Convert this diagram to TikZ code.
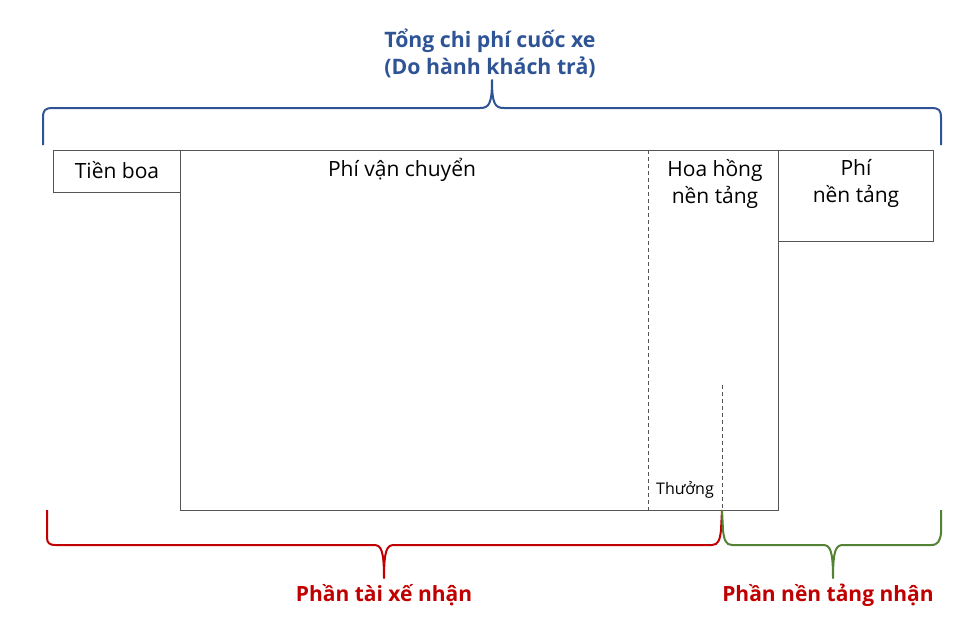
\documentclass[tikz,border=0pt]{standalone}
\usepackage{fontspec}
\setmainfont{Open Sans}
\usepackage{xcolor}
\definecolor{titleblue}{HTML}{2F5496}
\definecolor{partred}{HTML}{C00000}
\definecolor{partgreen}{HTML}{548235}
\definecolor{boxgray}{HTML}{555555}
\tikzset{
  boxline/.style={draw=boxgray, line width=1pt},
  splitline/.style={draw=boxgray, line width=0.9pt, dash pattern=on 4pt off 3pt},
  bracepath/.style={line width=2pt, line join=round},
  boxtext/.style={font=\fontsize{21}{27.5}\selectfont, align=center, inner sep=0pt},
  parttext/.style={font=\fontsize{21}{28}\selectfont\bfseries, inner sep=0pt}
}
\begin{document}
\begin{tikzpicture}[x=1pt,y=-1pt]
\useasboundingbox (0,0) rectangle (980,625);

\node[parttext, text=titleblue, align=center, font=\fontsize{21.3}{27}\selectfont\bfseries] (total) at (490,53) {Tổng chi phí cuốc xe\\(Do hành khách trả)};

% top brace
\draw[bracepath, titleblue] (43,145) -- (43,118) .. controls (43,110) and (45,108) .. (53,108)
  -- (480,108) .. controls (489,108) and (492,104) .. (492,80)
  .. controls (492,104) and (495,108) .. (504,108)
  -- (931,108) .. controls (939,108) and (941,110) .. (941,118) -- (941,145);

% boxes
\draw[boxline] (53,150) rectangle (180,192);
\draw[boxline] (180,150) rectangle (778,510);
\draw[boxline] (778,150) rectangle (933,241);
\draw[splitline] (648,150) -- (648,510);
\draw[splitline] (722,385) -- (722,510);

\node[boxtext] (tip) at (117,170) {Tiền boa};
\node[boxtext] (fare) at (402,170) {Phí vận chuyển};
\node[boxtext, anchor=north] (comm) at (715,159) {Hoa hồng\\nền tảng};
\node[boxtext, anchor=north] (fee) at (856,159) {Phí\\nền tảng};
\node[boxtext, font=\fontsize{16}{20}\selectfont] (bonus) at (685,490) {Thưởng};

% bottom braces
\draw[bracepath, partred] (47,510) -- (47,537) .. controls (47,543) and (49,545) .. (56,545)
  -- (374,545) .. controls (381,545) and (384,550) .. (384,578)
  .. controls (384,550) and (387,545) .. (394,545)
  -- (712,545) .. controls (718,545) and (720,540) .. (721,530) -- (722,510);
\draw[bracepath, partgreen] (722,510) -- (723,530) .. controls (724,540) and (726,545) .. (732,545)
  -- (823,545) .. controls (830,545) and (833,550) .. (833,578)
  .. controls (833,550) and (836,545) .. (843,545)
  -- (931,545) .. controls (938,545) and (940,541) .. (941,533) -- (941,510);

\node[parttext, text=partred] (driver) at (384,595) {Phần tài xế nhận};
\node[parttext, text=partred] (platform) at (828,595) {Phần nền tảng nhận};
\end{tikzpicture}
\end{document}
